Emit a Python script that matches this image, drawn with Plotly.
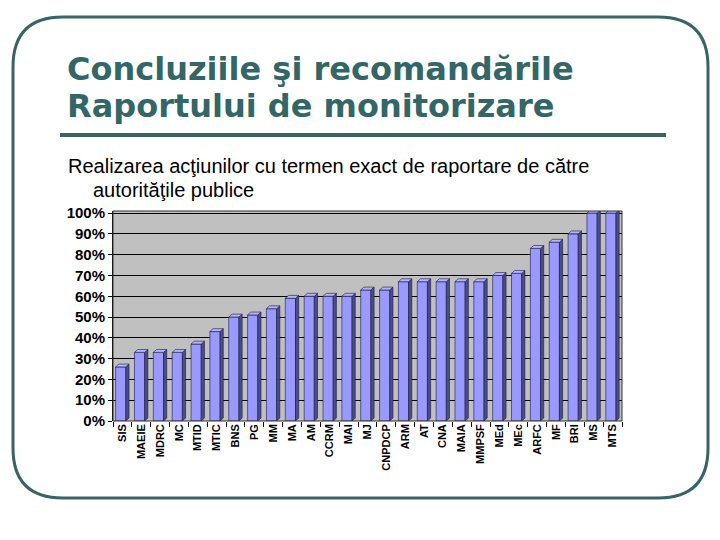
import plotly.graph_objects as go

categories = ["SIS", "MAEIE", "MDRC", "MC", "MTID", "MTIC", "BNS", "PG", "MM", "MA",
              "AM", "CCRM", "MAI", "MJ", "CNPDCP", "ARM", "AT", "CNA", "MAIA", "MMPSF",
              "MEd", "MEc", "ARFC", "MF", "BRI", "MS", "MTS"]
values = [26, 33, 33, 33, 37, 43, 50, 51, 54, 59,
          60, 60, 60, 63, 63, 67, 67, 67, 67, 67,
          70, 71, 83, 86, 90, 100, 100]
y_ticks = [0, 10, 20, 30, 40, 50, 60, 70, 80, 90, 100]
y_tick_labels = [f"{t}%" for t in y_ticks]

title_1 = "Concluziile şi recomandările"
title_2 = "Raportului de monitorizare"
subtitle_1 = "Realizarea acţiunilor cu termen exact de raportare de către"
subtitle_2 = "autorităţile publice"

W, H = 720, 540
OFF = 8  # default page margin of the HTML body


def px(x):
    return (x - OFF) / W


def py(y):
    return 1 - (y - OFF) / H


TEAL = "#3a6464"
FRONT = "#9999ff"
SIDE = "#4c4c8c"
TOP = "#b3b3ff"

n = len(categories)
xs = list(range(n))
front_w = 0.54
dx = 0.17
dy = 1.4

fig = go.Figure()

fig.add_trace(go.Bar(
    x=xs, y=values, width=front_w, offset=-0.36,
    marker=dict(color=FRONT, line=dict(color="#1a1a40", width=0.6)),
    hoverinfo="skip", showlegend=False,
))

# side and top faces computed from the data
for i, v in enumerate(values):
    r = i - 0.36 + front_w
    l = i - 0.36
    fig.add_trace(go.Scatter(
        x=[r, r + dx, r + dx, r, r], y=[0, dy, v + dy, v, 0],
        fill="toself", fillcolor=SIDE, mode="lines",
        line=dict(color="#1a1a40", width=0.6),
        hoverinfo="skip", showlegend=False, cliponaxis=False,
    ))
    fig.add_trace(go.Scatter(
        x=[l, l + dx, r + dx, r, l], y=[v, v + dy, v + dy, v, v],
        fill="toself", fillcolor=TOP, mode="lines",
        line=dict(color="#1a1a40", width=0.6),
        hoverinfo="skip", showlegend=False, cliponaxis=False,
    ))

# tick marks between categories
fig.add_trace(go.Scatter(x=[0], y=[0], xaxis="x2", mode="markers",
                         marker=dict(opacity=0), hoverinfo="skip", showlegend=False))

x0p, x1p = px(113), px(622)
y0p, y1p = py(421), py(211)

fig.update_layout(
    width=W, height=H, autosize=False,
    margin=dict(l=0, r=0, t=0, b=0, pad=0, autoexpand=False),
    paper_bgcolor="white",
    plot_bgcolor="#c0c0c0",
    bargap=0,
    showlegend=False,
    xaxis=dict(
        domain=[x0p, x1p], range=[-0.5, n - 0.5], automargin=False,
        tickmode="array", tickvals=xs, ticktext=categories,
        tickangle=-90, ticks="", showgrid=False, zeroline=False,
        tickfont=dict(family="Liberation Sans", size=11, color="black", weight="bold"),
        showline=False, fixedrange=True,
    ),
    xaxis2=dict(
        domain=[x0p, x1p], range=[-0.5, n - 0.5], overlaying="x", anchor="y",
        automargin=False,
        tickmode="array", tickvals=[i + 0.5 for i in range(-1, n)],
        showticklabels=False, ticks="outside", ticklen=5, tickcolor="black",
        showgrid=False, zeroline=False, showline=False,
    ),
    yaxis=dict(
        domain=[y0p, y1p], range=[0, 101], automargin=False,
        tickmode="array", tickvals=y_ticks, ticktext=y_tick_labels,
        ticks="outside", ticklen=4, tickcolor="black",
        showgrid=True, gridcolor="black", gridwidth=1,
        zeroline=False, showline=True, linecolor="black", linewidth=1,
        tickfont=dict(family="Liberation Sans", size=15, color="black", weight="bold"),
        fixedrange=True,
    ),
)

# plot area border
fig.add_shape(type="rect", xref="paper", yref="paper",
              x0=x0p, x1=x1p, y0=y0p, y1=y1p,
              line=dict(color="#333333", width=1), layer="above")

# rounded frame
fl, fr, ft, fb = px(13), px(708), py(17), py(498)
rx, ry = 50 / W, 50 / H
path = (f"M {fl+rx} {ft} L {fr-rx} {ft} Q {fr} {ft} {fr} {ft-ry} "
        f"L {fr} {fb+ry} Q {fr} {fb} {fr-rx} {fb} "
        f"L {fl+rx} {fb} Q {fl} {fb} {fl} {fb+ry} "
        f"L {fl} {ft-ry} Q {fl} {ft} {fl+rx} {ft} Z")
fig.add_shape(type="path", xref="paper", yref="paper", path=path,
              line=dict(color=TEAL, width=3))

# title rule
fig.add_shape(type="line", xref="paper", yref="paper",
              x0=px(60), x1=px(666), y0=py(135), y1=py(135),
              line=dict(color=TEAL, width=4))

title_font = dict(family="DejaVu Sans", size=32, color="#336666", weight="bold")
fig.add_annotation(text=title_1, xref="paper", yref="paper",
                   x=px(65), y=py(69), xanchor="left", yanchor="middle",
                   showarrow=False, font=title_font)
fig.add_annotation(text=title_2, xref="paper", yref="paper",
                   x=px(65), y=py(106), xanchor="left", yanchor="middle",
                   showarrow=False, font=title_font)

sub_font = dict(family="Liberation Sans", size=20, color="black")
fig.add_annotation(text=subtitle_1, xref="paper", yref="paper",
                   x=px(66), y=py(166), xanchor="left", yanchor="middle",
                   showarrow=False, font=sub_font)
fig.add_annotation(text=subtitle_2, xref="paper", yref="paper",
                   x=px(91), y=py(190), xanchor="left", yanchor="middle",
                   showarrow=False, font=sub_font)

fig.write_html("out.html", config={"displayModeBar": False, "staticPlot": True})
